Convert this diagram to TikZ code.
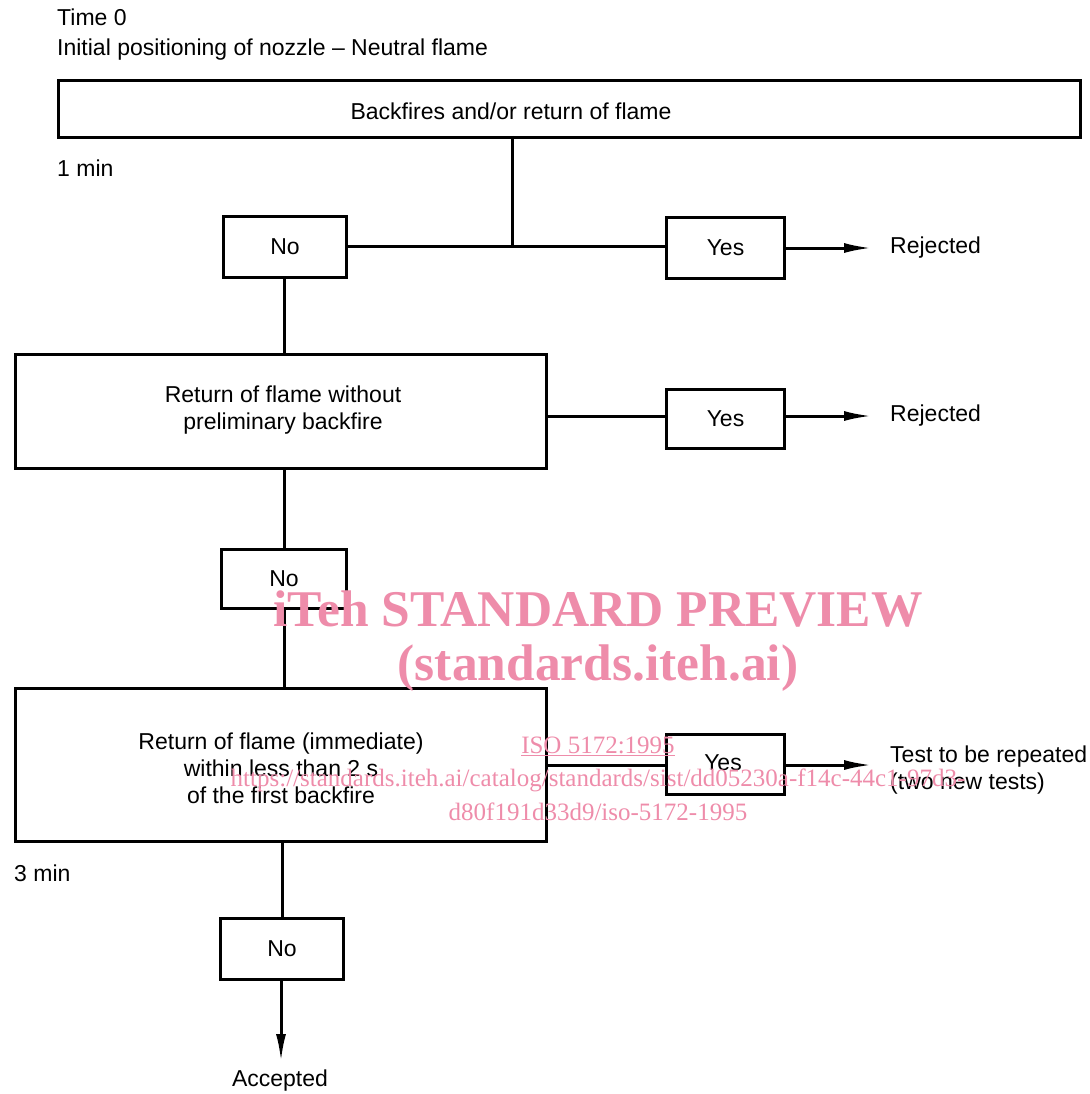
\documentclass[tikz,border=0pt]{standalone}
\usepackage{fontspec}
\setmainfont{Liberation Sans}
\newfontfamily\wmfont{Liberation Serif}
\usetikzlibrary{arrows.meta}
\definecolor{wmpink}{RGB}{238,140,170}
\tikzset{
  box/.style={draw, line width=3pt, inner sep=0pt},
  lbl/.style={inner sep=0pt, font=\fontsize{23}{27}\selectfont},
  conn/.style={line width=3pt},
  arr/.style={line width=3pt, -{Latex[length=28pt,width=10pt]}},
  wm/.style={inner sep=0pt, text=wmpink, font=\wmfont}
}
\begin{document}
\begin{tikzpicture}[x=1pt,y=-1pt]
\useasboundingbox (0,0) rectangle (1089,1094);
% headers
\node[lbl, anchor=west] (t0) at (57,17) {Time 0};
\node[lbl, anchor=west] (init) at (57,50) {Initial positioning of nozzle -- Neutral flame};
% box 1
\node[box, minimum width=1022pt, minimum height=57pt, anchor=north west] (b1) at (57,79) {};
\node[lbl] (b1t) at (511,111) {Backfires and/or return of flame};
\coordinate (b1s) at (512,136);
\node[lbl, anchor=west] (m1) at (57,168) {1 min};
% row 1
\node[box, minimum width=123pt, minimum height=61pt, anchor=north west] (no1) at (222,215) {};
\node[lbl] at (no1.center) {No};
\node[box, minimum width=118pt, minimum height=61pt, anchor=north west] (yes1) at (665,216) {};
\node[lbl] at (yes1.center) {Yes};
\coordinate (j1) at (512,246);
\draw[conn] (b1s) -- (j1);
\draw[conn] (no1.east |- 0,246) -- (yes1.west |- 0,246);
\coordinate (r1) at (872,248);
\draw[arr] (yes1.east |- 0,248) -- (r1);
\node[lbl, anchor=west] (rej1) at (890,248) {Rejected};
% box 2
\node[box, minimum width=531pt, minimum height=114pt, anchor=north west] (b2) at (14,353) {};
\node[lbl, align=center] at (283,410) {Return of flame without\\preliminary backfire};
\draw[conn] (no1.south -| 284,0) -- (b2.north -| 284,0);
\node[box, minimum width=118pt, minimum height=59pt, anchor=north west] (yes2) at (665,388) {};
\node[lbl] at (yes2.center) {Yes};
\draw[conn] (b2.east |- 0,416) -- (yes2.west |- 0,416);
\coordinate (r2) at (872,416);
\draw[arr] (yes2.east |- 0,416) -- (r2);
\node[lbl, anchor=west] (rej2) at (890,416) {Rejected};
% no2
\node[box, minimum width=125pt, minimum height=59pt, anchor=north west] (no2) at (220,548) {};
\node[lbl] at (no2.center) {No};
\draw[conn] (b2.south -| 284,0) -- (no2.north -| 284,0);
% box 3
\node[box, minimum width=531pt, minimum height=153pt, anchor=north west] (b3) at (14,687) {};
\node[lbl, align=center] at (281,768) {Return of flame (immediate)\\within less than 2 s\\of the first backfire};
\draw[conn] (no2.south -| 284,0) -- (b3.north -| 284,0);
\node[box, minimum width=118pt, minimum height=60pt, anchor=north west] (yes3) at (665,733) {};
\node[lbl] at (723,763) {Yes};
\draw[conn] (b3.east |- 0,765) -- (yes3.west |- 0,765);
\coordinate (r3) at (872,765);
\draw[arr] (yes3.east |- 0,765) -- (r3);
\node[lbl, anchor=west, align=left] (rep) at (890,770) {Test to be repeated\\(two new tests)};
\node[lbl, anchor=west] (m3) at (14,873) {3 min};
% no3
\node[box, minimum width=123pt, minimum height=61pt, anchor=north west] (no3) at (219,917) {};
\node[lbl] at (no3.center) {No};
\draw[conn] (b3.south -| 282,0) -- (no3.north -| 282,0);
\coordinate (acc) at (281,1062);
\draw[arr] (no3.south -| 281,0) -- (acc);
\node[lbl] (acct) at (280,1081) {Accepted};
% watermark
\node[wm, font=\wmfont\bfseries\fontsize{51.5}{56}\selectfont] (wm1) at (598,609) {iTeh STANDARD PREVIEW};
\node[wm, font=\wmfont\bfseries\fontsize{51.5}{56}\selectfont] (wm2) at (598,668) {(standards.iteh.ai)};
\node[wm, font=\wmfont\fontsize{25}{28}\selectfont] (wm3) at (598,746) {\underline{ISO 5172:1995}};
\node[wm, font=\wmfont\fontsize{25}{28}\selectfont] (wm4) at (598,780) {https://standards.iteh.ai/catalog/standards/sist/dd05230a-f14c-44c1-97d3-};
\node[wm, font=\wmfont\fontsize{25}{28}\selectfont] (wm5) at (598,812) {d80f191d33d9/iso-5172-1995};
\end{tikzpicture}
\end{document}
